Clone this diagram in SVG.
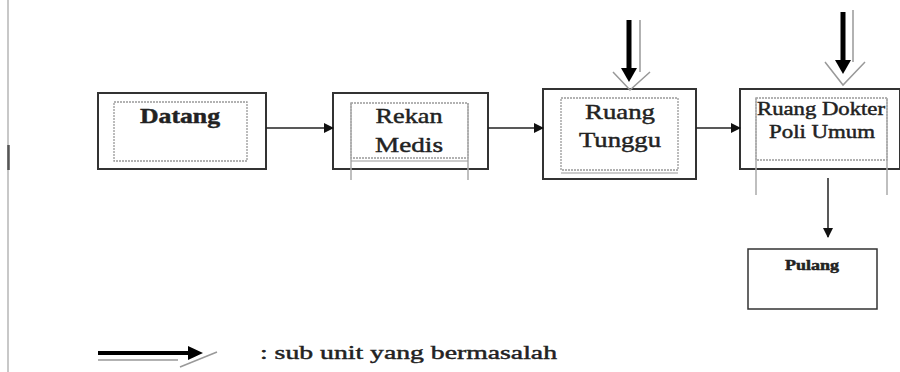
<svg xmlns="http://www.w3.org/2000/svg" width="900" height="372" viewBox="0 0 900 372">
<defs>
<style>
.outer{fill:#fff;stroke:#333;stroke-width:2}
.inner{fill:none;stroke:#999;stroke-width:1.3;stroke-dasharray:2 1}
.side{stroke:#aaa;stroke-width:1.5;fill:none}
.lbl{font-family:"Liberation Serif","DejaVu Serif",serif;fill:#222;stroke:#222;stroke-width:0.45;text-anchor:middle}
.conn{stroke:#222;stroke-width:1.5;fill:none}
.big{stroke:#000;stroke-width:5;fill:none}
.ghost{stroke:#999;stroke-width:1.5;fill:none}
</style>
<marker id="ah" markerWidth="10" markerHeight="10" refX="9" refY="5" orient="auto" markerUnits="userSpaceOnUse">
<path d="M0,0 L10,5 L0,10 Z" fill="#111"/>
</marker>
</defs>
<rect width="900" height="372" fill="#fff"/>
<g id="margin">
<line x1="8" y1="0" x2="8" y2="372" stroke="#c8c8c8" stroke-width="2"/>
<line x1="8.5" y1="145" x2="8.5" y2="170" stroke="#555" stroke-width="2.5"/>
</g>
<g id="datang">
<rect class="outer" x="98" y="93" width="168" height="76"/>
<rect class="inner" x="114" y="102" width="133" height="59"/>
<text class="lbl" x="180" y="123" font-size="22" font-weight="bold" textLength="80" lengthAdjust="spacingAndGlyphs">Datang</text>
</g>
<g id="rekan-medis">
<rect class="outer" x="333" y="93" width="155" height="76"/>
<rect class="inner" x="351" y="103" width="117" height="55"/>
<line class="side" x1="351" y1="103" x2="351" y2="180"/>
<line class="side" x1="468" y1="103" x2="468" y2="180"/>
<line x1="351" y1="161" x2="468" y2="161" stroke="#999" stroke-width="1"/>
<text class="lbl" x="409" y="123" font-size="22" textLength="67" lengthAdjust="spacingAndGlyphs">Rekan</text>
<text class="lbl" x="409" y="152" font-size="22" textLength="68" lengthAdjust="spacingAndGlyphs">Medis</text>
</g>
<g id="ruang-tunggu">
<rect class="outer" x="543" y="89" width="153" height="90"/>
<rect class="inner" x="561" y="98" width="117" height="72"/>
<line x1="561" y1="173" x2="678" y2="173" stroke="#999" stroke-width="1"/>
<text class="lbl" x="620" y="119" font-size="22" textLength="70" lengthAdjust="spacingAndGlyphs">Ruang</text>
<text class="lbl" x="620" y="147" font-size="22" textLength="82" lengthAdjust="spacingAndGlyphs">Tunggu</text>
</g>
<g id="ruang-dokter">
<rect class="outer" x="740" y="89" width="160" height="80"/>
<rect class="inner" x="756" y="98" width="131" height="62"/>
<line class="side" x1="756" y1="98" x2="756" y2="195"/>
<line class="side" x1="887" y1="98" x2="887" y2="195"/>
<text class="lbl" x="821" y="115" font-size="18" textLength="128" lengthAdjust="spacingAndGlyphs">Ruang Dokter</text>
<text class="lbl" x="822" y="138" font-size="18" textLength="106" lengthAdjust="spacingAndGlyphs">Poli  Umum</text>
</g>
<g id="pulang">
<rect x="748" y="249" width="129" height="60" fill="#fff" stroke="#333" stroke-width="1.5"/>
<text class="lbl" x="812" y="270" font-size="14" font-weight="bold" stroke-width="0.2" textLength="54" lengthAdjust="spacingAndGlyphs">Pulang</text>
</g>
<g id="problem-markers">
<line class="ghost" x1="640" y1="20" x2="640" y2="72"/>
<path class="ghost" d="M613,72 L630,90 L650,72"/>
<line class="big" x1="629" y1="20" x2="629" y2="70"/>
<path d="M621,68 L637,68 L629,82 Z" fill="#000"/>
<line class="ghost" x1="853" y1="10" x2="853" y2="62"/>
<path class="ghost" d="M825,62 L843,85 L865,62"/>
<line class="big" x1="843" y1="12" x2="843" y2="62"/>
<path d="M835,60 L851,60 L843,74 Z" fill="#000"/>
</g>
<g id="connectors">
<line class="conn" x1="266" y1="128" x2="333" y2="128" marker-end="url(#ah)"/>
<line class="conn" x1="488" y1="128" x2="543" y2="128" marker-end="url(#ah)"/>
<line class="conn" x1="696" y1="128" x2="740" y2="128" marker-end="url(#ah)"/>
<line class="conn" x1="828" y1="178" x2="828" y2="237" marker-end="url(#ah)"/>
</g>
<g id="legend">
<line x1="98" y1="360" x2="178" y2="360" stroke="#999" stroke-width="1.5"/>
<line x1="180" y1="367" x2="217" y2="352" stroke="#999" stroke-width="1.5"/>
<line x1="98" y1="353" x2="190" y2="353" stroke="#000" stroke-width="4"/>
<path d="M188,346 L203,353 L188,360 Z" fill="#000"/>
<text x="260" y="359" font-family="Liberation Serif, DejaVu Serif, serif" font-size="19" fill="#222" stroke="#222" stroke-width="0.45" textLength="297" lengthAdjust="spacingAndGlyphs">:  sub unit yang bermasalah</text>
</g>
</svg>
